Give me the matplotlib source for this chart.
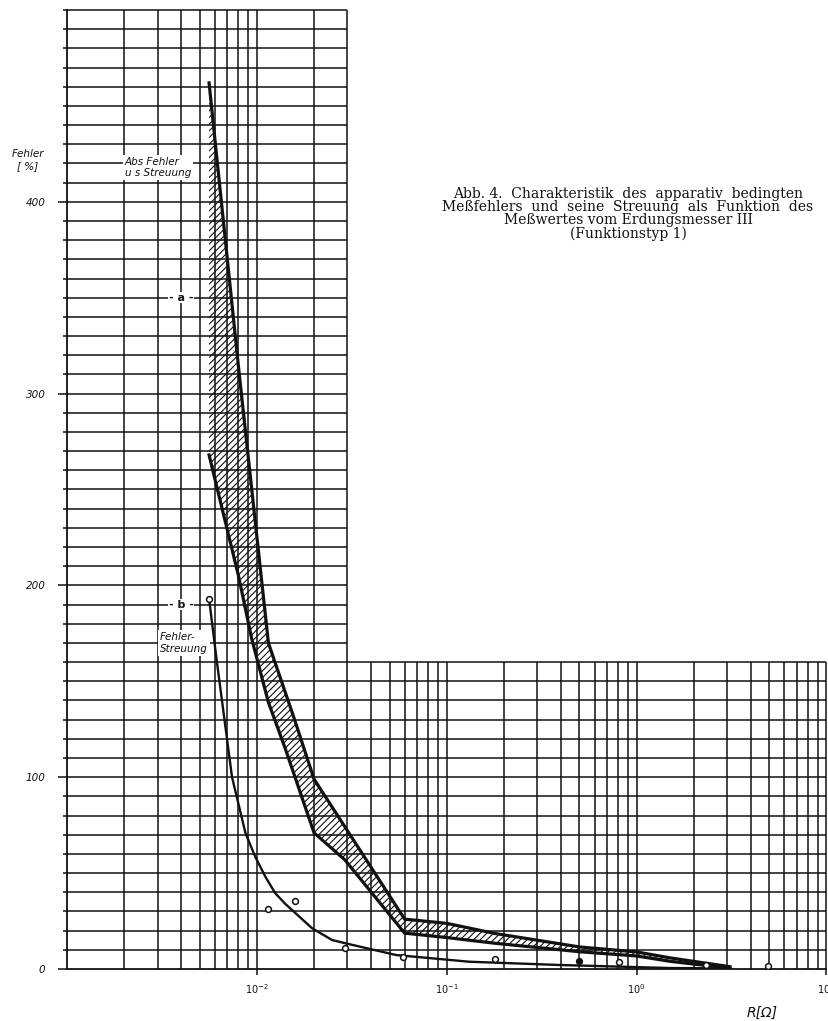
import matplotlib
matplotlib.use("Agg")
import matplotlib.pyplot as plt

# curve a: band "Abs Fehler u. Streuung" (upper and lower edge), R in Ohm, Fehler in %
a_upper_r = [5.6e-3, 8.0e-3, 1.15e-2, 1.58e-2, 2.0e-2, 6.0e-2, 1.0e-1, 1.8e-1, 5.0e-1, 1.0, 1.5, 3.1]
a_upper_f = [462, 314, 170, 130, 99, 26, 23.8, 18.5, 11.5, 8.9, 5.8, 1.2]
a_lower_r = [5.6e-3, 8.0e-3, 9.4e-3, 1.15e-2, 1.41e-2, 2.0e-2, 2.9e-2, 6.0e-2, 1.0e-1, 1.8e-1, 5.0e-1, 1.0, 1.5, 3.1]
a_lower_f = [268, 205, 172, 139, 115, 71, 57, 18.7, 16.4, 13.4, 9.0, 6.8, 4.0, 0.4]

# curve b: "Fehler-Streuung"
b_r = [5.6e-3, 6.16e-3, 7.4e-3, 8.7e-3, 9.8e-3, 1.11e-2, 1.25e-2, 1.41e-2, 1.95e-2,
       2.49e-2, 2.93e-2, 5.4e-2, 1.31e-1, 3.9e-1, 1.5, 3.1]
b_f = [193, 160, 100, 71, 58.5, 48, 39.5, 34, 21.3, 15.1, 13.4, 7.3, 3.8, 2.1, 0.5, 0.3]

# measured points of curve b
pts_r = [5.6e-3, 1.145e-2, 1.58e-2, 2.9e-2, 5.9e-2, 1.8e-1, 8.1e-1, 2.33, 4.9]
pts_f = [193, 31.2, 35.2, 10.8, 6.1, 5.2, 3.7, 2.1, 1.7]
pts_full_r = [0.5]
pts_full_f = [4.2]

x_ticks = [1e-2, 1e-1, 1, 10]
x_labels = [r"$\mathit{10^{-2}}$", r"$\mathit{10^{-1}}$", r"$\mathit{10^{0}}$", r"$\mathit{10^{1}}$"]
y_ticks = [0, 100, 200, 300, 400]

ink = "#111111"
plt.rcParams["mathtext.fontset"] = "dejavusans"
plt.rcParams["hatch.linewidth"] = 0.8

fig = plt.figure(figsize=(8.29, 10.21), dpi=100)
W, H = 829, 1021
ax = fig.add_axes([67 / W, 52 / H, (826.5 - 67) / W, 959 / H])
ax.set_xscale("log")
ax.set_xlim(1e-3, 10)
ax.set_ylim(0, 500)
for s in ["top", "right"]:
    ax.spines[s].set_visible(False)
for s in ["left", "bottom"]:
    ax.spines[s].set_linewidth(1.3)
    ax.spines[s].set_color(ink)

# L-shaped paper grid
xs = [m * 10.0 ** d for d in range(-3, 1) for m in range(1, 10)] + [10.0]
for x in xs[1:]:
    top = 500 if x <= 3.01e-2 else 160
    ax.vlines(x, 0, top, color=ink, lw=1.1, clip_on=False, zorder=1)
for y in range(10, 510, 10):
    right = 10 if y <= 160 else 3e-2
    ax.hlines(y, 1e-3, right, color=ink, lw=1.1, clip_on=False, zorder=1)

# band a
ax.fill(a_upper_r + a_lower_r[::-1], a_upper_f + a_lower_f[::-1],
        facecolor="none", edgecolor=ink, lw=0, hatch="/////", zorder=2)
ax.plot(a_upper_r, a_upper_f, color=ink, lw=2.3, zorder=3, solid_joinstyle="miter")
ax.plot(a_lower_r, a_lower_f, color=ink, lw=2.3, zorder=3, solid_joinstyle="miter")

# curve b
ax.plot(b_r, b_f, color=ink, lw=1.7, zorder=3)
ax.plot(pts_r, pts_f, "o", ms=4.2, mfc="white", mec=ink, mew=1.1, zorder=4)
ax.plot(pts_full_r, pts_full_f, "o", ms=4.2, mfc=ink, mec=ink, zorder=4)

# ticks
ax.set_xticks(x_ticks)
ax.set_xticklabels(x_labels)
ax.xaxis.set_minor_locator(matplotlib.ticker.NullLocator())
ax.tick_params(axis="x", which="major", direction="out", length=4.5, width=1.1,
               pad=5, labelsize=7, colors=ink)
ax.set_yticks(y_ticks)
ax.set_yticks(range(10, 510, 10), minor=True)
ax.set_yticklabels([str(v) for v in y_ticks], fontstyle="italic")
ax.tick_params(axis="y", which="major", direction="out", length=6.5, width=1.1,
               pad=9, labelsize=7.5, colors=ink)
ax.tick_params(axis="y", which="minor", direction="out", length=3, width=1.1, colors=ink)

lab = dict(color=ink, fontstyle="italic", family="DejaVu Sans")
box = dict(facecolor="white", edgecolor="none", pad=1.5)
ax.text(2.02e-3, 418, "Abs Fehler\nu s Streuung", fontsize=7.5, ha="left", va="center",
        linespacing=1.15, bbox=box, zorder=5, **lab)
ax.text(4.0e-3, 350, "- a -", fontsize=8, ha="center", va="center", fontweight="bold",
        color=ink, bbox=dict(facecolor="white", edgecolor="none", pad=0.5), zorder=5)
ax.text(4.0e-3, 190, "- b -", fontsize=8, ha="center", va="center", fontweight="bold",
        color=ink, bbox=dict(facecolor="white", edgecolor="none", pad=0.5), zorder=5)
ax.text(3.09e-3, 170, "Fehler-\nStreuung", fontsize=7.5, ha="left", va="center",
        linespacing=1.15, bbox=box, zorder=5, **lab)

fig.text(28 / W, 1 - 160 / H, "Fehler\n[ %]", fontsize=7.5, ha="center", va="center",
         linespacing=1.2, **lab)
fig.text(762 / W, 1 - 1013 / H, "R[Ω]", fontsize=10, ha="center", va="center", **lab)

fig.text(628 / W, 1 - 214 / H,
         "Abb. 4.  Charakteristik  des  apparativ  bedingten\n"
         "Meßfehlers  und  seine  Streuung  als  Funktion  des\n"
         "Meßwertes vom Erdungsmesser III\n"
         "(Funktionstyp 1)",
         family="DejaVu Serif", fontsize=10, ha="center", va="center",
         linespacing=0.9, color=ink)

fig.savefig("out.png", dpi=100)
